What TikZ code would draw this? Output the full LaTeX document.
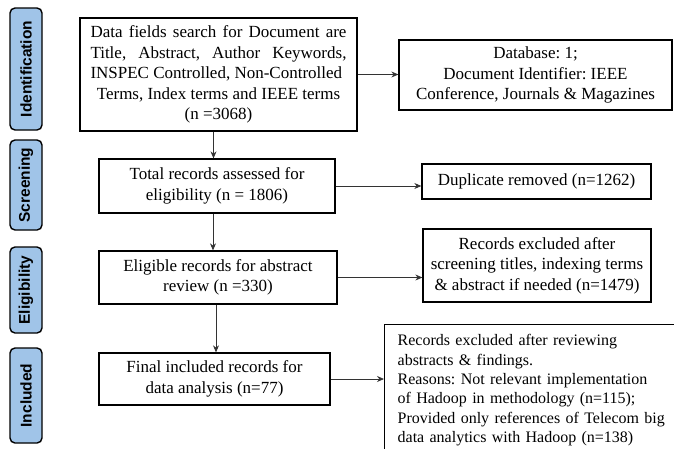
\documentclass[tikz,border=0pt]{standalone}
\usepackage{fontspec}
\setmainfont{Liberation Serif}
\newfontfamily\stagefont{Liberation Sans}
\frenchspacing
\usetikzlibrary{arrows.meta}

\begin{document}
\begin{tikzpicture}[x=1pt,y=-1pt,>={Stealth[length=7pt,width=6pt]},
  stagebox/.style={draw,line width=1.4pt,fill=pr_blue,rounded corners=5pt,rotate=90,
    minimum height=32pt,inner sep=0pt,font=\stagefont\bfseries\fontsize{15.5}{18}\selectfont},
  recbox/.style={draw,line width=1.3pt,align=center,inner sep=2pt,
    font=\fontsize{17}{20.5}\selectfont},
  flow/.style={line width=0.8pt,color=black!80,->}]
% ------------------------------------------------ prisma colors
\definecolor{pr_blue}{RGB}{160,196,232} %#A0C4E8

\useasboundingbox (0,0) rectangle (674,448);

% ------------------------------------------------ stage labels
\node[stagebox,minimum width=122pt] (s_ident) at (26,69)    {Identification};
\node[stagebox,minimum width=90pt]  (s_screen) at (26,185)  {Screening};
\node[stagebox,minimum width=86pt]  (s_elig) at (26,290)    {Eligibility};
\node[stagebox,minimum width=95pt]  (s_incl) at (26,395.5)  {Included};

% ------------------------------------------------ record boxes
\node[recbox,minimum width=277pt,minimum height=113pt,text width=256pt,align=justify] (search) at (218.5,74.5)
  {Data fields search for Document are\linebreak Title, Abstract, Author Keywords,\linebreak INSPEC Controlled, Non-Controlled\par
   \centering Terms, Index terms and IEEE terms\\(n =3068)\par};
\node[recbox,minimum width=273pt,minimum height=70pt] (db) at (535.5,75)
  {Database: 1;\\Document Identifier: IEEE\\Conference, Journals \& Magazines};

\node[recbox,minimum width=236pt,minimum height=54pt] (total) at (217,186)
  {Total records assessed for\\eligibility (n = 1806)};
\node[recbox,minimum width=229pt,minimum height=35pt] (dup) at (536.5,181.5)
  {Duplicate removed (n=1262)};

\node[recbox,minimum width=238pt,minimum height=53pt] (elig) at (218,277.5)
  {Eligible records for abstract\\review (n =330)};
\node[recbox,minimum width=228pt,minimum height=73pt] (excl) at (537,265.5)
  {Records excluded after\\screening titles, indexing terms\\\& abstract if needed (n=1479)};

\node[recbox,minimum width=231pt,minimum height=52pt] (final) at (214.5,379)
  {Final included records for\\data analysis (n=77)};
% last box runs off the right and bottom edges
\node[recbox,anchor=north west,align=left,text width=320pt,inner xsep=13pt,inner ysep=10.5pt,
  font=\fontsize{16}{19.3}\selectfont] (excl2) at (384,323.5)
  {Records excluded after reviewing\\abstracts \& findings.\\Reasons: Not relevant implementation\\of Hadoop in methodology (n=115);\\
   Provided only references of Telecom big\\data analytics with Hadoop (n=138)};

% ------------------------------------------------ arrows
\draw[flow] (search.east) -- (search.east -| db.west);
\draw[flow] (total.east) -- (total.east -| dup.west);
\draw[flow] (elig.east) -- (elig.east -| excl.west);
\draw[flow] (final.east) -- (final.east -| excl2.west);

\draw[flow] ([xshift=-5pt]search.south) -- ([xshift=-5pt]search.south |- total.north);
\draw[flow] ([xshift=-4pt]total.south) -- ([xshift=-4pt]total.south |- elig.north);
\draw[flow] ([xshift=-2pt]elig.south) -- ([xshift=-2pt]elig.south |- final.north);

\end{tikzpicture}
\end{document}
